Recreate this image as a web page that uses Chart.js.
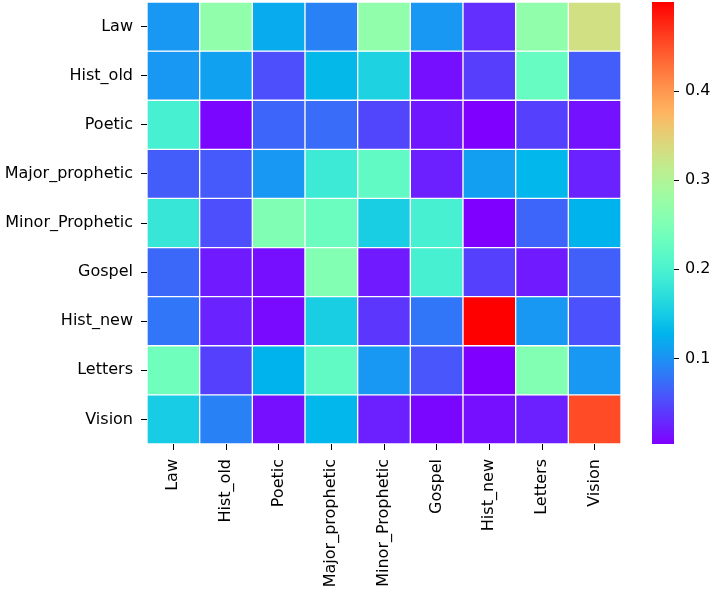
<!DOCTYPE html>
<html><head><meta charset="utf-8">
<script src="https://cdn.jsdelivr.net/npm/chart.js@4.4.1/dist/chart.umd.min.js"></script>
<style>
html,body{margin:0;padding:0;background:#fff;overflow:hidden}
#wrap{position:relative;width:714px;height:594px}
#main{position:absolute;left:0;top:0}
#cbar{position:absolute;left:630px;top:0}
</style></head><body>
<div id="wrap"><canvas id="main" width="714" height="594"></canvas><canvas id="cbar" width="84" height="594"></canvas></div>
<script>
const categories = ['Law','Hist_old','Poetic','Major_prophetic','Minor_Prophetic','Gospel','Hist_new','Letters','Vision'];
const rowLaw            = [0.105, 0.268, 0.120, 0.088, 0.268, 0.105, 0.033, 0.268, 0.331];
const rowHistOld        = [0.105, 0.112, 0.053, 0.132, 0.157, 0.013, 0.043, 0.227, 0.063];
const rowPoetic         = [0.197, 0.008, 0.068, 0.073, 0.048, 0.018, 0.004, 0.045, 0.015];
const rowMajorProphetic = [0.063, 0.060, 0.105, 0.187, 0.222, 0.023, 0.110, 0.130, 0.025];
const rowMinorProphetic = [0.182, 0.053, 0.252, 0.232, 0.152, 0.197, 0.004, 0.068, 0.127];
const rowGospel         = [0.070, 0.020, 0.013, 0.255, 0.020, 0.197, 0.045, 0.020, 0.065];
const rowHistNew        = [0.080, 0.025, 0.010, 0.152, 0.038, 0.080, 0.500, 0.105, 0.055];
const rowLetters        = [0.237, 0.045, 0.127, 0.222, 0.105, 0.058, 0.004, 0.255, 0.105];
const rowVision         = [0.150, 0.088, 0.013, 0.130, 0.023, 0.008, 0.013, 0.023, 0.453];
const colorbarTicks = [0.1, 0.2, 0.3, 0.4];

const matrix = [rowLaw,rowHistOld,rowPoetic,rowMajorProphetic,rowMinorProphetic,rowGospel,rowHistNew,rowLetters,rowVision];
const all = matrix.flat();
const vmin = Math.min(...all), vmax = Math.max(...all);

function clamp(v){return Math.max(0,Math.min(1,v));}
function rainbow(t){
  t = clamp(t);
  const r = clamp(Math.abs(2*t-0.5)), g = clamp(Math.sin(Math.PI*t)), b = clamp(Math.cos(Math.PI*t/2));
  return `rgb(${Math.round(r*255)},${Math.round(g*255)},${Math.round(b*255)})`;
}
const norm = v => (v-vmin)/(vmax-vmin);
const FONT = {family:'DejaVu Sans', size:16};

new Chart(document.getElementById('main'), {
  type:'bar',
  data:{
    labels: categories,
    datasets: matrix.map((row,i)=>({
      label: categories[i],
      data: row.map(()=>1),
      backgroundColor: row.map(v=>rainbow(norm(v))),
      borderColor:'#ffffff',
      borderWidth:1,
      borderSkipped:false,
      barPercentage:1,
      categoryPercentage:1
    }))
  },
  options:{
    responsive:false, animation:false, devicePixelRatio:1,
    layout:{padding:{top:2,right:93,left:0,bottom:0}},
    plugins:{legend:{display:false}, tooltip:{enabled:false}},
    scales:{
      x:{
        type:'category', stacked:true, offset:true,
        grid:{display:true, drawOnChartArea:false, drawTicks:true, tickLength:6, color:'#000', offset:false},
        border:{display:false},
        ticks:{minRotation:90, maxRotation:90, autoSkip:false, font:FONT, color:'#000', padding:9},
        afterFit(s){s.height=150; s.paddingLeft=0; s.paddingRight=0;}
      },
      y:{
        type:'linear', stacked:true, min:0, max:categories.length, reverse:true,
        afterBuildTicks(s){s.ticks = categories.map((_,i)=>({value:i+0.5}));},
        grid:{display:true, drawOnChartArea:false, drawTicks:true, tickLength:6, color:'#000'},
        border:{display:false},
        ticks:{font:FONT, color:'#000', padding:8, callback:(v,i)=>categories[i]},
        afterFit(s){s.width=147; s.paddingTop=0; s.paddingBottom=0;}
      }
    }
  }
});

new Chart(document.getElementById('cbar'), {
  type:'bar',
  data:{
    labels:[''],
    datasets:[{
      data:[[vmin, vmax]],
      backgroundColor:(ctx)=>{
        const ca = ctx.chart.chartArea;
        if(!ca) return 'rgb(128,0,255)';
        const g = ctx.chart.ctx.createLinearGradient(0, ca.bottom, 0, ca.top);
        for(let k=0;k<=40;k++){ g.addColorStop(k/40, rainbow(k/40)); }
        return g;
      },
      borderWidth:0,
      barPercentage:1, categoryPercentage:1
    }]
  },
  options:{
    responsive:false, animation:false, devicePixelRatio:1,
    layout:{padding:{top:2,right:0,left:22,bottom:150}},
    plugins:{legend:{display:false}, tooltip:{enabled:false}},
    scales:{
      x:{display:false},
      y:{
        position:'right', min:vmin, max:vmax,
        afterBuildTicks(s){s.ticks = colorbarTicks.map(v=>({value:v}));},
        grid:{display:true, drawOnChartArea:false, drawTicks:true, tickLength:5, color:'#000'},
        border:{display:false},
        ticks:{font:FONT, color:'#000', padding:6, callback:(v)=>v.toFixed(1)},
        afterFit(s){s.width=40; s.paddingTop=0; s.paddingBottom=0;}
      }
    }
  }
});
</script>
</body></html>
